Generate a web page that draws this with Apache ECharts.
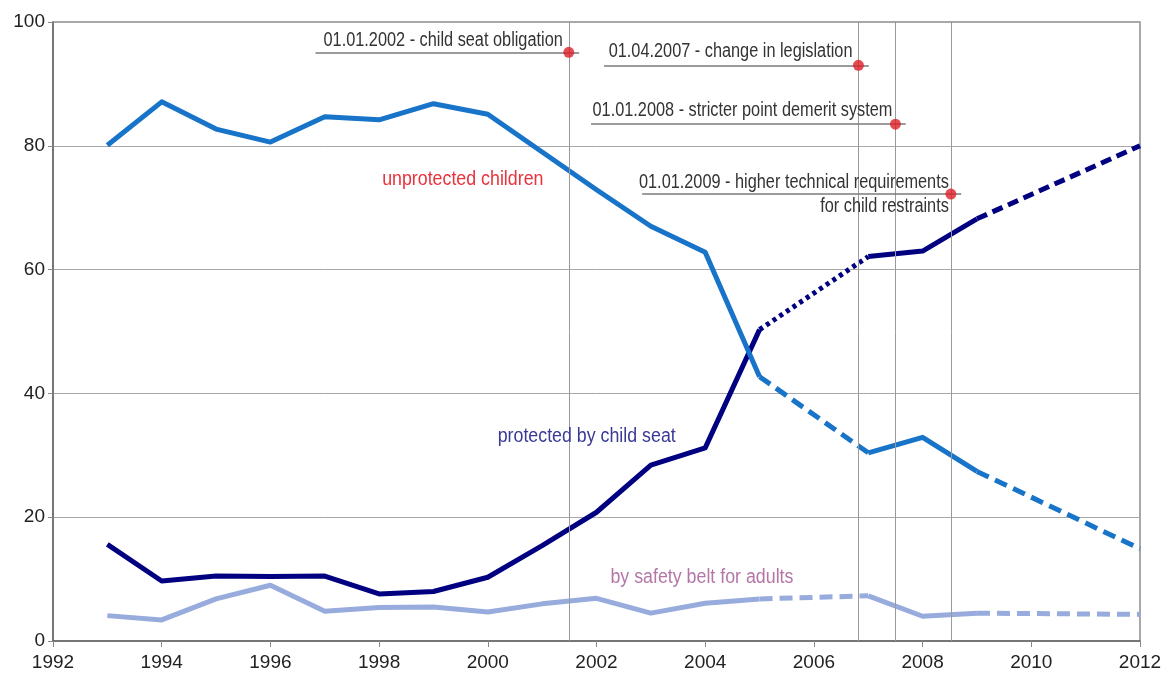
<!DOCTYPE html>
<html>
<head>
<meta charset="utf-8">
<script src="https://cdn.jsdelivr.net/npm/echarts@6/dist/echarts.min.js"></script>
<style>
html,body{margin:0;padding:0;background:#fff;}
#chart{width:1165px;height:679px;}
</style>
</head>
<body>
<div id="chart"></div>
<script>
// ---------- data ----------
const unprotYears  = [1993,1994,1995,1996,1997,1998,1999,2000,2001,2002,2003,2004,2005,2007,2008,2009,2012];
const unprotValues = [80.1,87.1,82.7,80.6,84.7,84.2,86.8,85.1,79.0,72.9,67.0,62.8,42.7,30.4,32.9,27.4,14.9];
const unprotStyles = ['s','s','s','s','s','s','s','s','s','s','s','s','d','s','s','d'];

const protYears  = [1993,1994,1995,1996,1997,1998,1999,2000,2001,2002,2003,2004,2005,2007,2008,2009,2012];
const protValues = [15.6,9.7,10.5,10.4,10.5,7.6,8.0,10.3,15.4,20.8,28.4,31.2,50.3,62.1,63.0,68.2,80.0];
const protStyles = ['s','s','s','s','s','s','s','s','s','s','s','s','o','s','s','d'];

const beltYears  = [1993,1994,1995,1996,1997,1998,1999,2000,2001,2002,2003,2004,2005,2007,2008,2009,2012];
const beltValues = [4.1,3.4,6.8,9.0,4.8,5.4,5.5,4.7,6.0,6.9,4.5,6.1,6.8,7.3,4.0,4.5,4.3];
const beltStyles = ['s','s','s','s','s','s','s','s','s','s','s','s','d','s','s','d'];

const eventX      = [2001.49, 2006.82, 2007.5, 2008.52];
const eventY      = [95.1, 93.0, 83.5, 72.2];
const eventLineX0 = [1996.83, 2002.14, 2001.9, 2002.84];
const eventTexts  = [
  '01.01.2002 - child seat obligation',
  '01.04.2007 - change in legislation',
  '01.01.2008 - stricter point demerit system',
  '01.01.2009 - higher technical requirements\nfor child restraints'
];

const seriesLabels = ['unprotected children', 'protected by child seat', 'by safety belt for adults'];

const xTicks = {min:1992, max:2012, step:2};
const yTicks = {min:0, max:100, step:20};

// ---------- build ----------
const SANS = "'Liberation Sans',Arial,sans-serif";

function buildSegments(name, xs, ys, styles, color, dashMap, z) {
  const out = [];
  let i = 0;
  while (i < styles.length) {
    let j = i;
    while (j + 1 < styles.length && styles[j + 1] === styles[i]) j++;
    const pts = [];
    for (let k = i; k <= j + 1; k++) pts.push([xs[k], ys[k]]);
    out.push({
      type: 'line', name: name, data: pts, symbol: 'none', showSymbol: false,
      silent: true, z: z,
      lineStyle: {color: color, width: 5, type: dashMap[styles[i]], cap: 'butt', join: 'round'}
    });
    i = j + 1;
  }
  return out;
}

const series = [];
// event vertical lines
series.push({
  type: 'line', data: [], silent: true, z: 1,
  markLine: {
    symbol: 'none', silent: true, animation: false,
    label: {show: false},
    lineStyle: {color: '#9a9a9a', width: 1, type: 'solid'},
    data: eventX.map(x => ({xAxis: x}))
  }
});
// annotation underlines
series.push({
  type: 'line', data: [], silent: true, z: 2,
  markLine: {
    symbol: 'none', silent: true, animation: false,
    label: {show: false},
    lineStyle: {color: '#7a7a7a', width: 1.5, type: 'solid'},
    data: eventX.map((x, i) => [{coord: [eventLineX0[i], eventY[i]]}, {coord: [x + 0.19, eventY[i]]}])
  }
});

series.push(...buildSegments('protected', protYears, protValues, protStyles, '#000080', {s: 'solid', d: [11, 6], o: [4, 4]}, 3));
series.push(...buildSegments('unprotected', unprotYears, unprotValues, unprotStyles, '#1874c8', {s: 'solid', d: [13, 7]}, 4));
series.push(...buildSegments('belt', beltYears, beltValues, beltStyles, '#97acdd', {s: 'solid', d: [13, 7]}, 3));

// event dots
series.push({
  type: 'scatter', symbolSize: 11, z: 10, silent: true,
  itemStyle: {color: '#dc1f28'},
  data: eventX.map((x, i) => [x, eventY[i]])
});

// event texts (condensed text, anchored at the dots)
const evTextShift = [[-6, -12], [-6, -14], [-3, -14], [-2, 0]];
series.push({
  type: 'custom', z: 12, silent: true,
  data: eventX.map((x, i) => [x, eventY[i], i]),
  renderItem: function (params, api) {
    const i = api.value(2);
    const p = api.coord([api.value(0), api.value(1)]);
    return {
      type: 'text', x: p[0] + evTextShift[i][0], y: p[1] + evTextShift[i][1], scaleX: 0.815,
      style: {text: eventTexts[i], font: "20px " + SANS, fill: '#333', align: 'right', verticalAlign: 'middle', lineHeight: 24}
    };
  }
});

// series text labels
const seriesLabelPos = [[1999.54, 74.6], [2001.82, 33.0], [2003.94, 10.2]];
const seriesLabelColors = ['#e8323c', '#3a3a96', '#b576a6'];
series.push({
  type: 'custom', z: 12, silent: true,
  data: seriesLabelPos.map((p, i) => [p[0], p[1], i]),
  renderItem: function (params, api) {
    const i = api.value(2);
    const p = api.coord([api.value(0), api.value(1)]);
    return {
      type: 'text', x: p[0], y: p[1], scaleX: 0.89,
      style: {text: seriesLabels[i], font: "20px " + SANS, fill: seriesLabelColors[i], align: 'center', verticalAlign: 'middle'}
    };
  }
});

const chart = echarts.init(document.getElementById('chart'), null, {renderer: 'canvas'});
chart.setOption({
  animation: false,
  backgroundColor: '#fff',
  grid: {left: 53, right: 25, top: 22, bottom: 38, show: true, borderColor: '#8c8c8c', borderWidth: 1.5, backgroundColor: 'transparent'},
  xAxis: {
    type: 'value', min: xTicks.min, max: xTicks.max, interval: xTicks.step,
    axisLine: {show: true, onZero: false, lineStyle: {color: '#666', width: 1.5}},
    axisTick: {show: true, length: 6, lineStyle: {color: '#888'}},
    splitLine: {show: false},
    axisLabel: {fontFamily: SANS, fontSize: 19, color: '#222', margin: 12, formatter: v => String(v)}
  },
  yAxis: {
    type: 'value', min: yTicks.min, max: yTicks.max, interval: yTicks.step,
    axisLine: {show: true, lineStyle: {color: '#666', width: 1.5}},
    axisTick: {show: true, length: 5, lineStyle: {color: '#888'}},
    splitLine: {show: true, lineStyle: {color: '#a8a8a8', width: 1}},
    axisLabel: {fontFamily: SANS, fontSize: 19, color: '#222', margin: 8, formatter: v => String(v)}
  },
  series: series
});
</script>
</body>
</html>
